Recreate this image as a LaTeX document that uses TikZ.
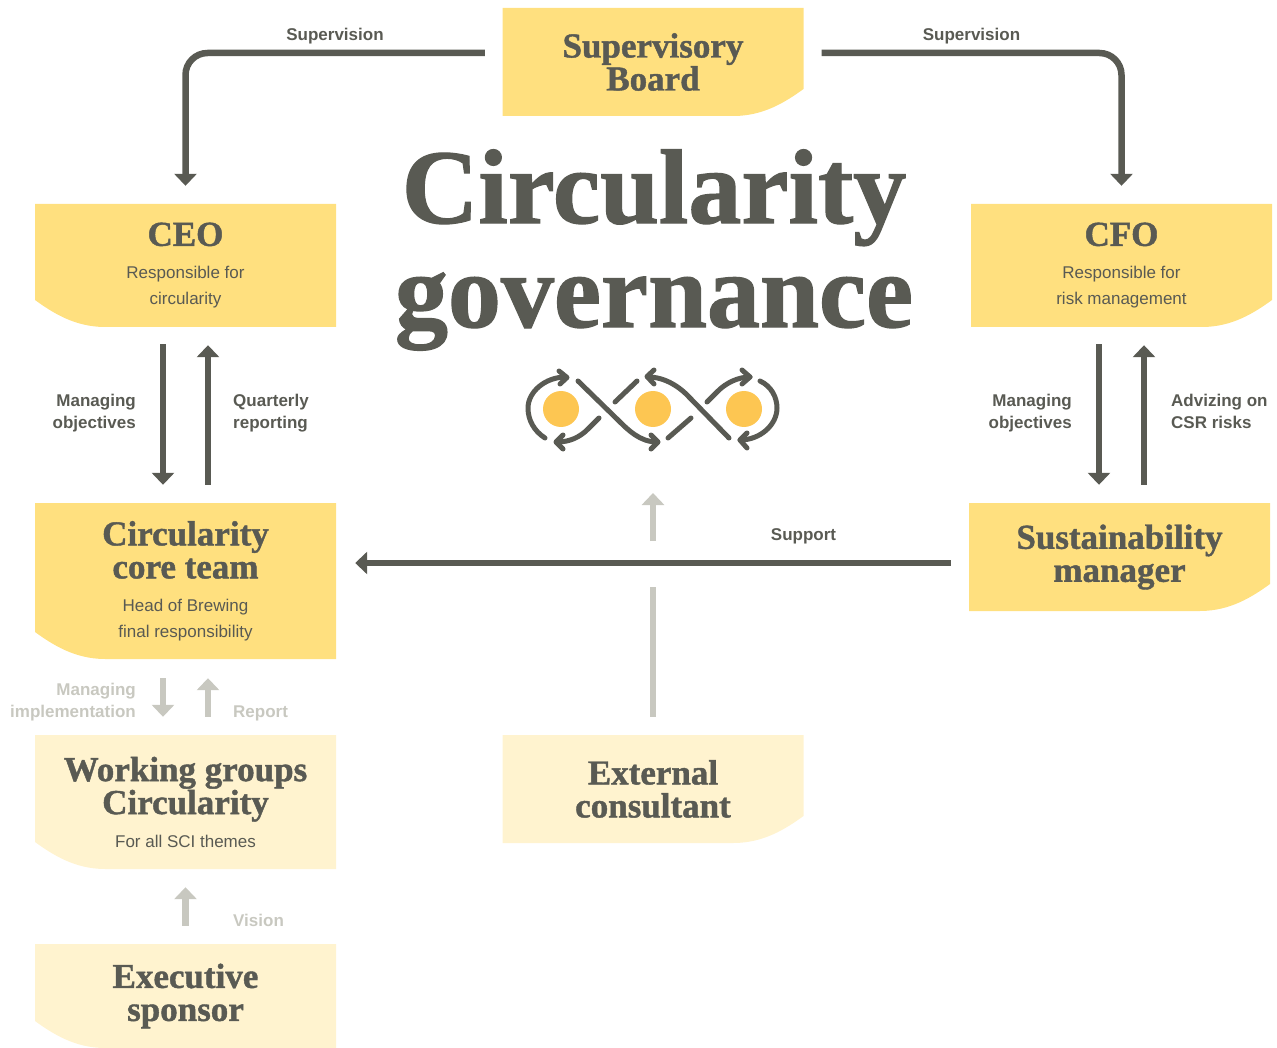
\documentclass[tikz,border=0pt]{standalone}
\usepackage{fontspec}
\setmainfont{Liberation Serif}[BoldFeatures={FakeBold=1.2}]
\setsansfont{Liberation Sans}
\usepackage{xcolor}
\usepackage{tikz}
\usetikzlibrary{arrows.meta}

\definecolor{ink}{HTML}{595A53}
\definecolor{mute}{HTML}{C8C8C0}
\definecolor{sun}{HTML}{FFE07F}
\definecolor{pale}{HTML}{FFF3CF}
\definecolor{dot}{HTML}{FDC652}

\newcommand{\cardsub}[1]{{\sffamily\mdseries\fontsize{17}{17}\selectfont #1}}

\tikzset{
  card/.style={inner sep=0pt,minimum width=301pt,align=center,text=ink,
    font=\fontsize{35}{33}\selectfont\bfseries},
  cutleft/.style={path picture={
    \fill[#1] (path picture bounding box.north west) -- (path picture bounding box.north east)
      -- (path picture bounding box.south east) -- ([xshift=70pt]path picture bounding box.south west)
      .. controls ([xshift=40pt]path picture bounding box.south west) and ([xshift=18pt,yshift=14pt]path picture bounding box.south west)
      .. ([yshift=27pt]path picture bounding box.south west) -- cycle;}},
  cutright/.style={path picture={
    \fill[#1] (path picture bounding box.north east) -- (path picture bounding box.north west)
      -- (path picture bounding box.south west) -- ([xshift=-70pt]path picture bounding box.south east)
      .. controls ([xshift=-40pt]path picture bounding box.south east) and ([xshift=-18pt,yshift=14pt]path picture bounding box.south east)
      .. ([yshift=27pt]path picture bounding box.south east) -- cycle;}},
  flow/.style={draw=ink,line width=6.5pt,-{Triangle[width=22pt,length=12pt]}},
  faint/.style={draw=mute,line width=6.5pt,-{Triangle[width=22pt,length=12pt]}},
  tag/.style={inner sep=0pt,text=ink,font=\fontsize{17}{22}\selectfont\sffamily\bfseries},
  tagfaint/.style={tag,text=mute},
  loopline/.style={draw=ink,line width=5pt,line cap=round,line join=round},
}

\begin{document}
\begin{tikzpicture}[x=1pt,y=-1pt]
  \useasboundingbox (0,0) rectangle (1277,1048);

  % cards
  \node[card,cutright=sun,minimum height=108pt] (board) at (653,62) {Supervisory\\Board};
  \node[card,cutleft=sun,minimum height=123pt] (ceo) at (185.5,265.5)
    {CEO\\\cardsub{Responsible for}\\[-7pt]\cardsub{circularity}};
  \node[card,cutright=sun,minimum height=123pt] (cfo) at (1121.5,265.5)
    {CFO\\\cardsub{Responsible for}\\[-7pt]\cardsub{risk management}};
  \node[card,cutleft=sun,minimum height=156pt] (team) at (185.5,581)
    {Circularity\\core team\\\cardsub{Head of Brewing}\\[-7pt]\cardsub{final responsibility}};
  \node[card,cutright=sun,minimum height=108pt] (sust) at (1119.5,557) {Sustainability\\manager};
  \node[card,cutleft=pale,minimum height=134pt] (groups) at (185.5,802)
    {Working groups\\Circularity\\\cardsub{For all SCI themes}};
  \node[card,cutright=pale,minimum height=108pt] (ext) at (653,789) {External\\consultant};
  \node[card,cutleft=pale,minimum height=104pt] (exec) at (185.5,996) {Executive\\sponsor};

  % title
  \node[inner sep=0pt,text=ink,align=center,font=\fontsize{106}{104}\selectfont\bfseries] (head) at (654,250)
    {Circularity\\governance};

  % loop icon
  \foreach \x in {561,653,744}
    \fill[dot] (\x,409) circle (18);
  \draw[loopline] (545,438) .. controls (534,431) and (528,420) .. (528,408)
    .. controls (528,392) and (545,377) .. (566,377);
  \draw[loopline] (559,371) -- (567,377.5) -- (560,384);
  \draw[loopline] (578,381) -- (618,420) .. controls (628,430) and (640,442) .. (657,442);
  \draw[loopline] (651,435) -- (658,442) -- (651,449);
  \draw[loopline] (599,418) -- (588,429) .. controls (580,437) and (570,442) .. (557,442);
  \draw[loopline] (563,435) -- (556,442) -- (563,449);
  \draw[loopline] (615,402) -- (637,381);
  \draw[loopline] (668,438) -- (691,418);
  \draw[loopline] (729,438) -- (690,398) .. controls (680,387) and (665,377) .. (648,377);
  \draw[loopline] (654,370) -- (647,376.5) -- (654,384);
  \draw[loopline] (707,402) -- (718,391) .. controls (726,383) and (738,377) .. (750,377);
  \draw[loopline] (742,370) -- (750,377) -- (742,384);
  \draw[loopline] (760,381) .. controls (771,386) and (777,397) .. (777,408)
    .. controls (777,425) and (760,440) .. (740,440);
  \draw[loopline] (747,433) -- (740,440) -- (747,448);

  % connectors
  \draw[flow,rounded corners=22pt] ([xshift=-17.5pt,yshift=9pt]board.west) -| ([yshift=18pt]ceo.north);
  \draw[flow,rounded corners=22pt] ([xshift=18pt,yshift=9pt]board.east) -| ([yshift=18pt]cfo.north);
  \draw[flow] ([xshift=-22.5pt,yshift=-17pt]ceo.south) -- ([xshift=-22.5pt,yshift=18pt]team.north);
  \draw[flow] ([xshift=22.5pt,yshift=18pt]team.north) -- ([xshift=22.5pt,yshift=-18pt]ceo.south);
  \draw[flow] ([xshift=-22.5pt,yshift=-17pt]cfo.south) -- ([xshift=-20.5pt,yshift=18pt]sust.north);
  \draw[flow] ([xshift=24.5pt,yshift=18pt]sust.north) -- ([xshift=22.5pt,yshift=-18pt]cfo.south);
  \draw[flow] ([xshift=-18pt,yshift=-6pt]sust.west) -- ([xshift=19pt,yshift=18pt]team.east);
  \draw[faint] ([xshift=-22.5pt,yshift=-19pt]team.south) -- ([xshift=-22.5pt,yshift=18pt]groups.north);
  \draw[faint] ([xshift=22.5pt,yshift=18pt]groups.north) -- ([xshift=22.5pt,yshift=-19pt]team.south);
  \draw[faint] ([yshift=18pt]exec.north) -- ([yshift=-18pt]groups.south);
  \coordinate (gaplow) at (653,587);
  \coordinate (gaphigh) at (653,541);
  \coordinate (tiptop) at (653,493);
  \draw[draw=mute,line width=6.5pt] ([yshift=18pt]ext.north) -- (gaplow);
  \draw[faint] (gaphigh) -- (tiptop);

  % labels
  \node[tag,anchor=base] (supl) at (335,41) {Supervision};
  \node[tag,anchor=base] (supr) at (971.5,41) {Supervision};
  \node[tag,anchor=base] (supp) at (803.5,540) {Support};
  \node[tag,align=right,anchor=east] (mobl) at (136,413) {Managing\\objectives};
  \node[tag,align=left,anchor=west] (qrep) at (233,413) {Quarterly\\reporting};
  \node[tag,align=right,anchor=east] (mobr) at (1072,413) {Managing\\objectives};
  \node[tag,align=left,anchor=west] (adv) at (1171,411) {Advizing on\\CSR risks};
  \node[tagfaint,align=right,anchor=east] (mimp) at (136,702) {Managing\\implementation};
  \node[tagfaint,anchor=base west] (rep) at (233,717) {Report};
  \node[tagfaint,anchor=base west] (vis) at (233,926) {Vision};
\end{tikzpicture}
\end{document}
